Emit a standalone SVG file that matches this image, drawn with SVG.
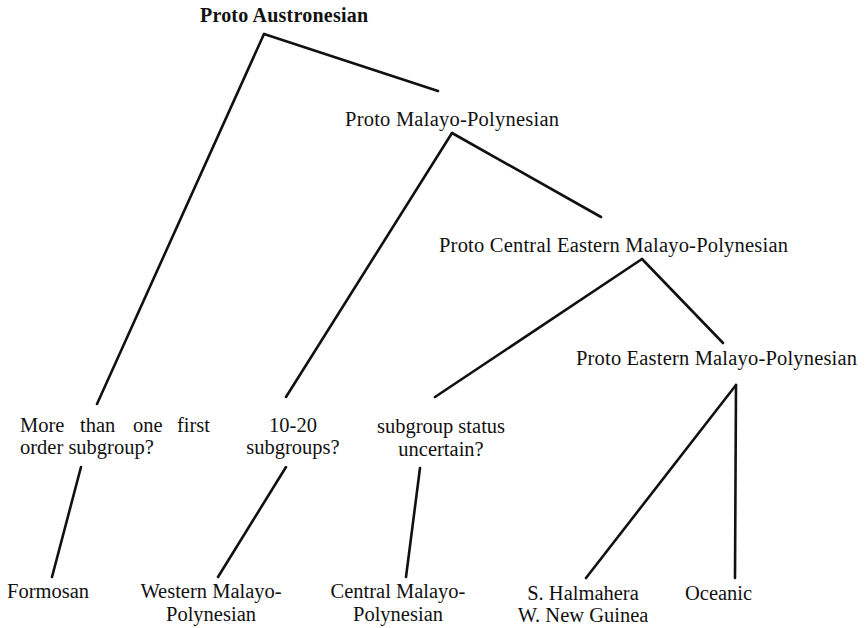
<svg xmlns="http://www.w3.org/2000/svg" width="867" height="628" viewBox="0 0 867 628">
<style>
text{font-family:"Liberation Serif","Times New Roman",serif;font-size:20.5px;fill:#111}
.b{font-weight:bold;font-size:20px}
.m{text-anchor:middle}
#connectors line{stroke:#111;stroke-width:2.6;stroke-linecap:round}
</style>
<rect width="867" height="628" fill="#fff"/>
<g id="connectors">
<line x1="264" y1="34" x2="97" y2="404"/>
<line x1="264" y1="34" x2="438" y2="91"/>
<line x1="452" y1="133" x2="286" y2="397"/>
<line x1="452" y1="133" x2="601" y2="217"/>
<line x1="642" y1="259" x2="435" y2="397"/>
<line x1="642" y1="259" x2="723" y2="343"/>
<line x1="736" y1="385" x2="586" y2="578"/>
<line x1="736" y1="385" x2="735" y2="578"/>
<line x1="81" y1="467" x2="52" y2="577"/>
<line x1="286" y1="467" x2="218" y2="577"/>
<line x1="420" y1="468" x2="406" y2="577"/>
</g>
<g id="proto-austronesian"><text class="b" x="200" y="22" textLength="168">Proto Austronesian</text></g>
<g id="proto-malayo-polynesian"><text x="345" y="126" textLength="214">Proto Malayo-Polynesian</text></g>
<g id="proto-cemp"><text x="439" y="252" textLength="349">Proto Central Eastern Malayo-Polynesian</text></g>
<g id="proto-emp"><text x="576" y="365" textLength="281">Proto Eastern Malayo-Polynesian</text></g>
<g id="formosan-q"><text y="432"><tspan x="20">More</tspan><tspan x="80">than</tspan><tspan x="133">one</tspan><tspan x="177">first</tspan></text><text x="20" y="454">order subgroup?</text></g>
<g id="wmp-q"><text class="m" x="293" y="432">10-20</text><text class="m" x="293" y="454">subgroups?</text></g>
<g id="cmp-q"><text class="m" x="441" y="433">subgroup status</text><text class="m" x="441" y="456">uncertain?</text></g>
<g id="formosan"><text x="7" y="598">Formosan</text></g>
<g id="western-mp"><text class="m" x="211" y="598">Western Malayo-</text><text class="m" x="211" y="621">Polynesian</text></g>
<g id="central-mp"><text class="m" x="398" y="598">Central Malayo-</text><text class="m" x="398" y="621">Polynesian</text></g>
<g id="shwng"><text class="m" x="583" y="600">S. Halmahera</text><text class="m" x="583" y="622">W. New Guinea</text></g>
<g id="oceanic"><text x="685" y="600">Oceanic</text></g>
</svg>
